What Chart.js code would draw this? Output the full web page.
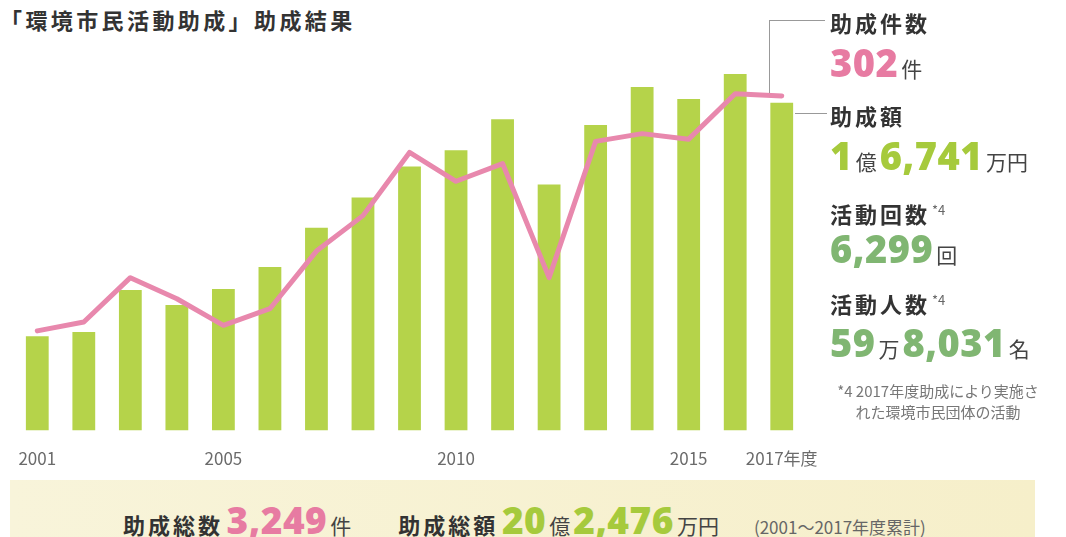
<!DOCTYPE html>
<html lang="ja">
<head>
<meta charset="utf-8">
<script src="https://cdn.jsdelivr.net/npm/chart.js@4.4.0/dist/chart.umd.min.js"></script>
<style>
  body { margin: 0; width: 1066px; height: 537px; background: #fff; position: relative; overflow: hidden;
         font-family: "Noto Sans CJK JP", sans-serif; color: #333; }
  .abs { position: absolute; white-space: nowrap; }
  #title { left: 0; top: 4px; font-size: 22px; font-weight: 700; letter-spacing: 3.4px; line-height: 30px; color: #333; }
  #chartBox { position: absolute; left: 0; top: 35px; width: 840px; height: 452px; }
  .head { left: 830px; font-size: 22px; font-weight: 700; letter-spacing: 3px; line-height: 26px; color: #333; }
  .head sup { font-size: 13px; font-weight: 400; color: #666; letter-spacing: 0; vertical-align: 8px; margin-left: 2px; }
  .row { left: 830px; line-height: 44px; }
  .num { font-family: "Open Sans", sans-serif; font-weight: 800; font-size: 38px; letter-spacing: 0.5px; }
  .unit { font-size: 21px; font-weight: 400; color: #444; margin: 0 3px; }
  .pink { color: #e77ba2; }
  .lime { color: #a6ca3c; }
  .green { color: #80b672; }
  .note { left: 826px; width: 224px; text-align: center; font-size: 15px; line-height: 21px; color: #777; }
  .vline { border-left: 1px solid #999; width: 0; }
  .hline { border-top: 1px solid #999; height: 0; }
  #band { left: 10px; top: 480px; width: 1025px; height: 57px; background: linear-gradient(to right, #f8f4da, #f6efca); }
  #bandText { left: 123px; top: 499px; line-height: 42px; }
  #bandText .head2 { font-size: 22px; font-weight: 700; letter-spacing: 3px; color: #333; }
  #bandText .num { font-size: 37px; }
  #bandText .small { font-size: 17px; color: #666; margin-left: 32px; }
</style>
</head>
<body>
<div id="title" class="abs">「環境市民活動助成」助成結果</div>
<div id="chartBox"><canvas id="grantChart"></canvas></div>

<div class="abs vline" style="left:769px; top:20px; height:73px;"></div>
<div class="abs hline" style="left:769px; top:20px; width:56px;"></div>
<div class="abs hline" style="left:795px; top:113px; width:32px;"></div>

<div class="abs head" style="top:9px;">助成件数</div>
<div class="abs row" style="top:40px;"><span class="num pink">302</span><span class="unit">件</span></div>
<div class="abs head" style="top:102px;">助成額</div>
<div class="abs row" style="top:133px;"><span class="num lime">1</span><span class="unit">億</span><span class="num lime">6,741</span><span class="unit">万円</span></div>
<div class="abs head" style="top:197px;">活動回数<sup>*4</sup></div>
<div class="abs row" style="top:226px;"><span class="num green">6,299</span><span class="unit">回</span></div>
<div class="abs head" style="top:287px;">活動人数<sup>*4</sup></div>
<div class="abs row" style="top:320px;"><span class="num green">59</span><span class="unit">万</span><span class="num green">8,031</span><span class="unit">名</span></div>
<div class="abs note" style="top:380px;">*4 2017年度助成により実施さ<br>れた環境市民団体の活動</div>

<div id="band" class="abs"></div>
<div id="bandText" class="abs"><span class="head2">助成総数</span> <span class="num pink">3,249</span><span class="unit">件</span><span style="display:inline-block;width:44px"></span><span class="head2">助成総額</span> <span class="num lime">20</span><span class="unit">億</span><span class="num lime">2,476</span><span class="unit">万円</span><span class="small">(2001〜2017年度累計)</span></div>

<script>
// fiscal years
const years = ['2001', '2002', '2003', '2004', '2005', '2006', '2007', '2008', '2009',
               '2010', '2011', '2012', '2013', '2014', '2015', '2016', '2017'];
// 助成額 (万円)
const grantAmount = [4820, 5030, 7180, 6410, 7230, 8360, 10360, 11900, 13490,
                     14310, 15900, 12570, 15600, 17550, 16930, 18210, 16741];
// 助成件数 (件)
const grantCount = [90, 98, 138, 119, 95, 110, 162, 194, 251,
                    225, 241, 138, 261, 268, 263, 304, 302];
// years shown under the bars and their text
const tickYears = ['2001', '2005', '2010', '2015', '2017'];
const tickText = ['2001', '2005', '2010', '2015', '2017年度'];

var ctx = document.getElementById('grantChart');
var grantChart = new Chart(ctx, {
  data: {
    labels: years,
    datasets: [{
      type: 'line',
      label: '助成件数',
      data: grantCount,
      yAxisID: 'yCount',
      borderColor: '#e888ad',
      borderWidth: 5,
      pointRadius: 0,
      tension: 0,
      borderJoinStyle: 'round',
      borderCapStyle: 'round',
      order: 0
    }, {
      type: 'bar',
      label: '助成額',
      data: grantAmount,
      yAxisID: 'yAmount',
      backgroundColor: '#b5d34a',
      barPercentage: 0.49,
      categoryPercentage: 1.0,
      order: 1
    }]
  },
  options: {
    responsive: true,
    maintainAspectRatio: false,
    animation: false,
    layout: { padding: { left: 14, right: 35, top: 0, bottom: 0 } },
    plugins: { legend: { display: false }, tooltip: { enabled: false } },
    scales: {
      x: {
        grid: { display: false, drawTicks: false },
        border: { display: false },
        ticks: {
          autoSkip: false,
          maxRotation: 0,
          padding: 18,
          color: '#6b6b6b',
          font: { family: '"Noto Sans CJK JP", sans-serif', size: 17 },
          callback: function (value, index) {
            var k = tickYears.indexOf(years[index]);
            return k < 0 ? '' : tickText[k];
          }
        }
      },
      yAmount: { display: false, min: 0, max: 20200 },
      yCount: { display: false, min: 0, max: 357 }
    }
  }
});
</script>
</body>
</html>
